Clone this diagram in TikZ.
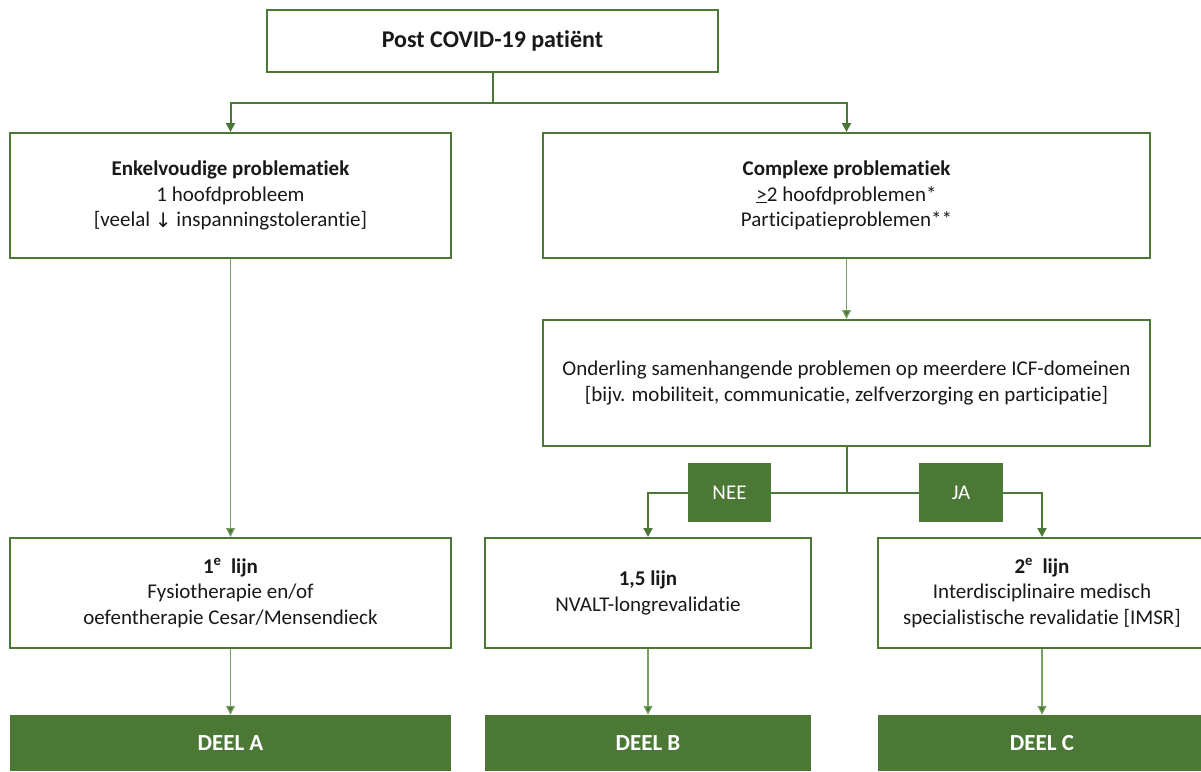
\documentclass[tikz,border=0pt]{standalone}
\usepackage{fontspec}
\setmainfont{Carlito}[Ligatures=NoCommon]
\newfontfamily\djv{DejaVu Sans}
\usetikzlibrary{arrows.meta}
\definecolor{grn}{RGB}{76,120,54}
\definecolor{grnl}{RGB}{120,160,100}
\definecolor{txt}{RGB}{25,25,25}
\tikzset{
  box/.style={draw=grn, line width=2pt, fill=white, align=center, inner sep=0pt, text=txt, font=\fontsize{21}{25.5}\selectfont},
  gbox/.style={fill=grn, draw=none, align=center, inner sep=0pt, text=white, font=\fontsize{23}{26}\selectfont\bfseries},
  con/.style={draw=grn, line width=2pt},
  arr/.style={draw=grn, line width=2pt, -{Triangle[width=9pt,length=9pt]}},
  tarr/.style={draw=grnl, line width=1.2pt, -{Triangle[width=9pt,length=9pt,fill=grn]}}
}
\begin{document}
\begin{tikzpicture}[x=1pt,y=-1pt]
\useasboundingbox (0,0) rectangle (1201,771);
\node[box, minimum width=451pt, minimum height=62pt, font=\fontsize{24}{28}\selectfont] (top) at (492.5,41) {\textbf{Post COVID-19 patiënt}};
\node[box, minimum width=441pt, minimum height=125pt] (enk) at (230.5,195.5) {\textbf{Enkelvoudige problematiek}\\1 hoofdprobleem\\{}[veelal {\djv\fontsize{20}{20}\selectfont\raisebox{-1pt}{↓}} inspanningstolerantie]};
\node[box, minimum width=607pt, minimum height=125pt] (comp) at (846.5,195.5) {\textbf{Complexe problematiek}\\\underline{>}2 hoofdproblemen*\\Participatieproblemen**};
\node[box, minimum width=607pt, minimum height=126pt] (onder) at (846.5,383) {Onderling samenhangende problemen op meerdere ICF-domeinen\\{}[bijv. mobiliteit, communicatie, zelfverzorging en participatie]};
\node[box, minimum width=441pt, minimum height=110pt] (l1) at (230.5,593) {\textbf{1\textsuperscript{e}\ \ lijn}\\Fysiotherapie en/of\\oefentherapie Cesar/Mensendieck};
\node[box, minimum width=326pt, minimum height=110pt] (l15) at (648,593) {\textbf{1,5 lijn}\\NVALT-longrevalidatie};
\node[box, minimum width=328pt, minimum height=110pt] (l2) at (1042,593) {\textbf{2\textsuperscript{e}\ \ lijn}\\Interdisciplinaire medisch\\specialistische revalidatie [IMSR]};
\node[gbox, minimum width=441pt, minimum height=56pt] (da) at (230.5,743) {DEEL A};
\node[gbox, minimum width=326pt, minimum height=56pt] (db) at (648,743) {DEEL B};
\node[gbox, minimum width=328pt, minimum height=56pt] (dc) at (1042,743) {DEEL C};
\coordinate (br1) at (492.5,103);
\coordinate (br2) at (846.5,492.5);
\draw[con] (top.south) -- (br1);
\draw[arr] (br1) -| (enk.north);
\draw[arr] (br1) -| (comp.north);
\draw[tarr] (enk.south) -- (l1.north);
\draw[tarr] (comp.south) -- (onder.north);
\draw[con] (onder.south) -- (br2);
\node[gbox, minimum width=83pt, minimum height=59pt, font=\fontsize{21}{24}\selectfont] (nee) at (729.5,492.5) {NEE};
\node[gbox, minimum width=84pt, minimum height=59pt, font=\fontsize{21}{24}\selectfont] (ja) at (961,492.5) {JA};
\draw[con] (br2) -- (nee.east);
\draw[con] (br2) -- (ja.west);
\draw[arr] (nee.west) -| (l15.north);
\draw[arr] (ja.east) -| (l2.north);
\draw[tarr] (l1.south) -- (da.north);
\draw[tarr] (l15.south) -- (db.north);
\draw[tarr] (l2.south) -- (dc.north);
\end{tikzpicture}
\end{document}
